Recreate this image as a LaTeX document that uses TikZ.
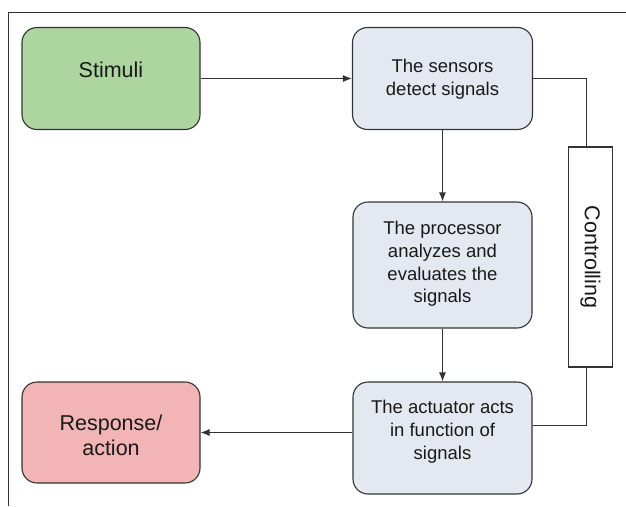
\documentclass[tikz,border=0pt]{standalone}
\usepackage{fontspec}
\setmainfont{Liberation Sans}
\usetikzlibrary{arrows.meta}
\definecolor{lgreen}{HTML}{ADD5A0}
\definecolor{lpink}{HTML}{F2B4B4}
\definecolor{lblue}{HTML}{E4E8F0}
\definecolor{edge}{HTML}{333333}
\tikzset{
  box/.style={draw=edge,line width=1.1pt,rounded corners=15pt,inner sep=0pt},
  txt/.style={align=center,inner sep=0pt,text=black!90,font=\fontsize{18.5}{22.8}\selectfont},
  bigtxt/.style={txt,font=\fontsize{21.5}{25}\selectfont},
  conn/.style={draw=edge,line width=1.1pt},
  arr/.style={conn,-{Latex[length=9pt,width=7pt]}}
}
\begin{document}
\begin{tikzpicture}[x=1pt,y=-1pt]
\useasboundingbox (0,0) rectangle (626,506);
\draw[edge,line width=1.1pt] (626,12.5) -- (8.5,12.5) -- (8.5,506);
\node[box,fill=lgreen,minimum width=178pt,minimum height=102pt] (stim) at (111,78.5) {};
\node[bigtxt] (stimt) at (111,70) {Stimuli};
\node[box,fill=lblue,minimum width=180pt,minimum height=102pt] (sens) at (442.5,78.5) {};
\node[txt] (senst) at (442.5,79) {The sensors\\detect signals};
\node[box,fill=lblue,minimum width=179pt,minimum height=126pt] (proc) at (442.5,265) {};
\node[txt] (proct) at (442.5,264) {The processor\\analyzes and\\evaluates the\\signals};
\node[box,fill=lblue,minimum width=179pt,minimum height=112pt] (act) at (442.5,438) {};
\node[txt] (actt) at (442.5,432) {The actuator acts\\in function of\\signals};
\node[box,fill=lpink,minimum width=178pt,minimum height=101pt] (resp) at (111,432.5) {};
\node[bigtxt] (respt) at (111,435) {Response/\\action};
\node[draw=edge,line width=1.1pt,fill=white,minimum width=44pt,minimum height=220pt,inner sep=0pt] (ctrl) at (590.5,257) {};
\node[rotate=-90,inner sep=0pt,text=black!90,font=\fontsize{21.5}{25}\selectfont] (ctrlt) at (ctrl.center) {Controlling};
\coordinate (c1) at (586.5,78.5);
\coordinate (c2) at (586.5,425.5);
\draw[arr] (stim.east) -- (sens.west);
\draw[conn] (sens.east) -- (c1) -- (c1 |- ctrl.north);
\draw[arr] (sens.south) -- (proc.north);
\draw[arr] (proc.south) -- (act.north);
\draw[conn] (c2 |- ctrl.south) -- (c2) -- (act.east |- c2);
\draw[arr] (act.west |- resp.east) -- (resp.east);
\end{tikzpicture}
\end{document}
